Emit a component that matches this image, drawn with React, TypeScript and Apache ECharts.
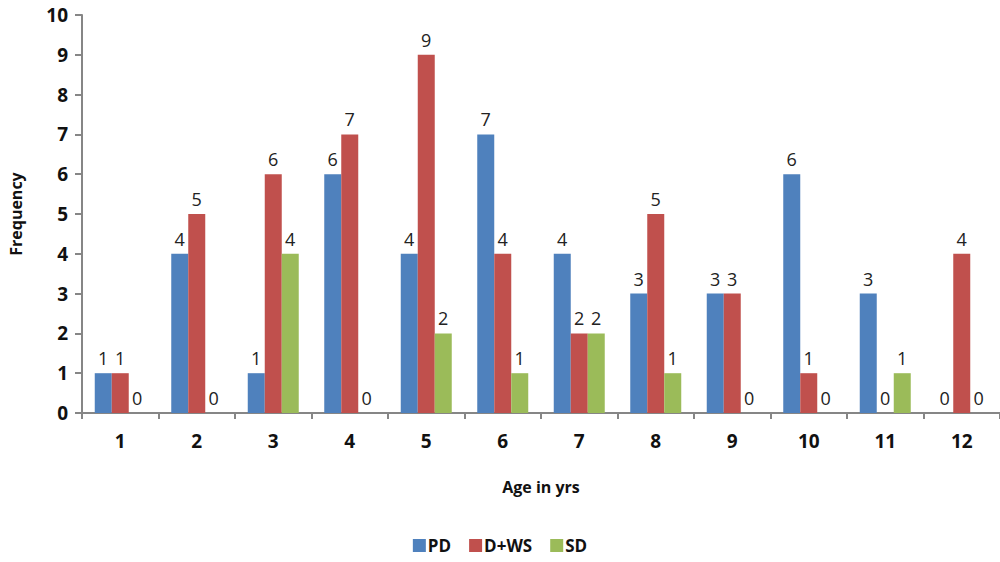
import React, { useEffect, useRef } from "react";
import * as echarts from "echarts";

const categories = ["1", "2", "3", "4", "5", "6", "7", "8", "9", "10", "11", "12"];
const pd = [1, 4, 1, 6, 4, 7, 4, 3, 3, 6, 3, 0];
const dws = [1, 5, 6, 7, 9, 4, 2, 5, 3, 1, 0, 4];
const sd = [0, 0, 4, 0, 2, 1, 2, 1, 0, 0, 1, 0];
const yTicks = [0, 1, 2, 3, 4, 5, 6, 7, 8, 9, 10];

const FONT = "'Open Sans', 'Liberation Sans', sans-serif";

export default function App() {
  const ref = useRef<HTMLDivElement>(null);
  useEffect(() => {
    if (!ref.current) return;
    const chart = echarts.init(ref.current, undefined, { renderer: "svg" });
    const label = {
      show: true,
      position: "top" as const,
      distance: 6,
      fontSize: 18,
      color: "#222",
      fontFamily: FONT,
    };
    chart.setOption({
      animation: false,
      backgroundColor: "#fff",
      textStyle: { fontFamily: FONT },
      grid: { left: 82, right: -13, top: 15, bottom: 149, containLabel: false },
      legend: {
        bottom: 3,
        left: "center",
        itemWidth: 13,
        itemHeight: 13,
        itemGap: 18,
        icon: "rect",
        textStyle: { fontSize: 17, fontWeight: "bold", color: "#111", fontFamily: FONT, padding: [0, 0, 0, -3] },
        data: ["PD", "D+WS", "SD"],
      },
      xAxis: {
        type: "category",
        data: categories,
        name: "Age in yrs",
        nameLocation: "middle",
        nameGap: 66,
        nameTextStyle: { fontSize: 16, fontWeight: "bold", color: "#111", fontFamily: FONT },
        axisLine: { lineStyle: { color: "#868686", width: 2 } },
        axisTick: { show: true, alignWithLabel: false, length: 6, lineStyle: { color: "#868686", width: 2 } },
        axisLabel: { fontSize: 19, fontWeight: "bold", color: "#111", margin: 18, fontFamily: FONT },
      },
      yAxis: {
        type: "value",
        min: yTicks[0],
        max: yTicks[yTicks.length - 1],
        interval: 1,
        name: "Frequency",
        nameLocation: "middle",
        nameGap: 58,
        nameRotate: 90,
        nameTextStyle: { fontSize: 16, fontWeight: "bold", color: "#111", fontFamily: FONT },
        axisLine: { show: true, lineStyle: { color: "#868686", width: 2 } },
        axisTick: { show: true, length: 7, lineStyle: { color: "#868686", width: 2 } },
        splitLine: { show: false },
        axisLabel: { fontSize: 19, fontWeight: "bold", color: "#111", margin: 14, fontFamily: FONT },
      },
      series: [
        { name: "PD", type: "bar", data: pd, barWidth: 17, barGap: "0%", itemStyle: { color: "#4F81BD" }, label },
        { name: "D+WS", type: "bar", data: dws, barWidth: 17, barGap: "0%", itemStyle: { color: "#C0504D" }, label },
        { name: "SD", type: "bar", data: sd, barWidth: 17, barGap: "0%", itemStyle: { color: "#9BBB59" }, label },
      ],
    });
    return () => chart.dispose();
  }, []);
  return <div ref={ref} style={{ width: 1000, height: 562, position: "absolute", left: 0, top: 0 }} />;
}
